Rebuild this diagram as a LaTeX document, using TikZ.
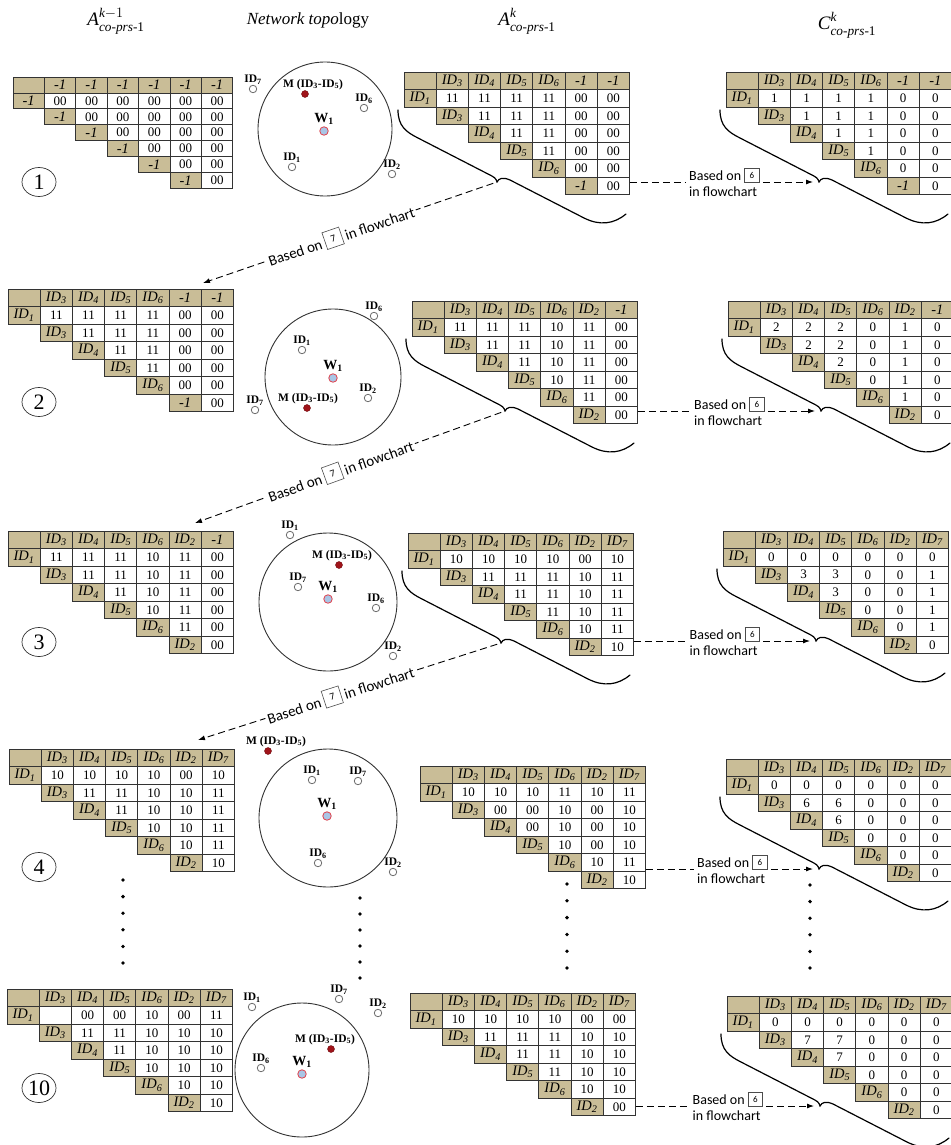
\documentclass[tikz,border=0pt]{standalone}
\usepackage{fontspec,amsmath}
\setmainfont{Liberation Serif}
\newfontfamily\sansf{Carlito}
\usetikzlibrary{arrows.meta,positioning,shapes.geometric}
\definecolor{khaki}{HTML}{C9BD97}
\definecolor{rim}{HTML}{333333}
\definecolor{hubfill}{HTML}{A9C6E6}
\definecolor{hubrim}{HTML}{E0404A}
\definecolor{mred}{HTML}{A0141A}
\definecolor{devrim}{HTML}{6E6E6E}
\def\cellw{32.2}\def\cellh{17.5}
\newcommand{\I}[1]{ID\textsubscript{#1}}
\newcommand{\upk}[1]{\raisebox{2.5pt}{$\scriptstyle #1$}}
\newcommand{\stepbox}[3]{\raisebox{-2pt}{\setlength\fboxsep{0pt}\setlength\fboxrule{0.6pt}\fcolorbox{black!70}{white}{\parbox[b][#1][c]{#1}{\centering\fontsize{#2}{#2}\selectfont #3}}}}
\tikzset{cell/.style={draw=rim,line width=0.7pt,fill=white,minimum width=\cellw pt,minimum height=\cellh pt,inner sep=0pt,font=\fontsize{13}{13}\selectfont},
hdr/.style={cell,fill=khaki,font=\fontsize{14.5}{14.5}\selectfont\itshape},
ring/.style={circle,draw=rim,line width=0.9pt,inner sep=0pt},
hub/.style={circle,draw=hubrim,fill=hubfill,line width=0.8pt,minimum size=8.5pt,inner sep=0pt},
dev/.style={circle,draw=devrim,fill=white,line width=0.8pt,minimum size=7.5pt,inner sep=0pt},
mdot/.style={circle,draw=mred!70!black,fill=mred,minimum size=7pt,inner sep=0pt},
lbl/.style={inner sep=0.5pt,font=\bfseries\fontsize{11.5}{11.5}\selectfont},
num/.style={ellipse,draw=rim,line width=0.7pt,minimum width=34pt,minimum height=29pt,inner sep=0pt,font=\fontsize{22}{22}\selectfont},
ttl/.style={inner sep=0pt,font=\fontsize{19}{19}\selectfont},
note/.style={align=left,inner sep=3pt,font=\sansf\fontsize{14}{16}\selectfont},
brc/.style={line width=1.2pt,line cap=round},
dashln/.style={line width=0.9pt,dash pattern=on 7pt off 4pt},
dasharr/.style={dashln,-{Latex[length=7pt,width=5pt]}}}
% triangular matrix: name, origin, first row header, column headers, value rows
\newcommand{\trimat}[5]{%
\begin{scope}[shift={#2}]
\node[hdr] (#1-0-0) at ({0.5*\cellw},{0.5*\cellh}) {};
\node[hdr] (#1-1-0) at ({0.5*\cellw},{1.5*\cellh}) {#3};
\foreach \t [count=\c] in {#4} {
  \node[hdr] (#1-0-\c) at ({(\c+0.5)*\cellw},{0.5*\cellh}) {\t};
  \ifnum\c<6 \pgfmathtruncatemacro\rr{\c+1}
  \node[hdr] (#1-\rr-\c) at ({(\c+0.5)*\cellw},{(\c+1.5)*\cellh}) {\t}; \fi}
\foreach \vals [count=\r] in {#5} {
  \foreach \v [count=\k] in \vals {
    \pgfmathtruncatemacro\cc{\r+\k-1}
    \node[cell] (#1-\r-\cc) at ({(\cc+0.5)*\cellw},{(\r+0.5)*\cellh}) {\v};}}
\end{scope}}
% rotated brace below a matrix, tip named #1
\newcommand{\brc}[2]{%
\begin{scope}[shift={#2}]
\draw[brc] (-6,38) .. controls (-6,54) and (2,60) .. (14,66) -- (84,102)
  .. controls (90,105) and (92,106) .. (93,110) coordinate (#1)
  .. controls (95,106) and (99,105) .. (106,108) -- (180,146)
  .. controls (196,154) and (210,152) .. (222,142);
\end{scope}}
\newcommand{\dev}[3]{\node[dev] (#1) at #2 {}; \node[lbl,above=0pt of #1] (#1t) {#3};}
\newcommand{\mdot}[3]{\node[mdot] (#1) at #2 {}; \node[lbl,above=0pt of #1,xshift=#3] (#1t) {M (ID\textsubscript{3}-ID\textsubscript{5})};}

\begin{document}
\begin{tikzpicture}[x=1pt,y=-1pt]
\useasboundingbox (0,0) rectangle (950,1145);
% titles
\node[ttl] (h1) at (116,21) {$\mathit{A}^{\upk{\mathit{k}-1}}_{\mathit{co}\text{-}\mathit{prs}\text{-1}}$};
\node[ttl,font=\fontsize{17}{17}\selectfont] (h2) at (308,20) {\textit{Network topo}logy};
\node[ttl] (h3) at (527,21) {$\mathit{A}^{\upk{\mathit{k}}}_{\mathit{co}\text{-}\mathit{prs}\text{-1}}$};
\node[ttl] (h4) at (847,25) {$\mathit{C}^{\upk{\mathit{k}}}_{\mathit{co}\text{-}\mathit{prs}\text{-1}}$};

% row 1
\def\cellw{31.4}\def\cellh{15.9}
\trimat{L1}{(13,77)}{-1}{-1,-1,-1,-1,-1,-1}{{00,00,00,00,00,00},{00,00,00,00,00},{00,00,00,00},{00,00,00},{00,00},{00}}
\def\cellw{32.2}\def\cellh{17.5}
\trimat{M1}{(404,72)}{\I1}{\I3,\I4,\I5,\I6,-1,-1}{{11,11,11,11,00,00},{11,11,11,00,00},{11,11,00,00},{11,00,00},{00,00},{00}}
\trimat{C1}{(726,72)}{\I1}{\I3,\I4,\I5,\I6,-1,-1}{{1,1,1,1,0,0},{1,1,1,0,0},{1,1,0,0},{1,0,0},{0,0},{0}}
\node[num] (k1) at (39,182) {1};
\node[ring,minimum size=134pt] (g1) at (325,129) {};
\node[hub] (w1) at (324,131) {};
\node[lbl,above=1pt of w1,font=\bfseries\fontsize{14}{14}\selectfont] (w1t) {W\textsubscript{1}};
\dev{n1-7}{(253,89)}{ID\textsubscript{7}}
\mdot{n1-m}{(305,94)}{8pt}
\dev{n1-6}{(364,108)}{ID\textsubscript{6}}
\dev{n1-1}{(292,167)}{ID\textsubscript{1}}
\dev{n1-2}{(392,174)}{ID\textsubscript{2}}

% row 2
\trimat{L2}{(8,289)}{\I1}{\I3,\I4,\I5,\I6,-1,-1}{{11,11,11,11,00,00},{11,11,11,00,00},{11,11,00,00},{11,00,00},{00,00},{00}}
\trimat{M2}{(412,301)}{\I1}{\I3,\I4,\I5,\I6,\I2,-1}{{11,11,11,10,11,00},{11,11,10,11,00},{11,10,11,00},{10,11,00},{11,00},{00}}
\trimat{C2}{(728,301)}{\I1}{\I3,\I4,\I5,\I6,\I2,-1}{{2,2,2,0,1,0},{2,2,0,1,0},{2,0,1,0},{0,1,0},{1,0},{0}}
\node[num] (k2) at (39,402) {2};
\node[ring,minimum size=136pt] (g2) at (333,377) {};
\node[hub] (w2) at (333,378) {};
\node[lbl,above=1pt of w2,font=\bfseries\fontsize{14}{14}\selectfont] (w2t) {W\textsubscript{1}};
\dev{n2-6}{(374,316)}{ID\textsubscript{6}}
\dev{n2-1}{(302,350)}{ID\textsubscript{1}}
\dev{n2-2}{(368,398)}{ID\textsubscript{2}}
\dev{n2-7}{(255,410)}{ID\textsubscript{7}}
\mdot{n2-m}{(307,408)}{1pt}

% row 3
\trimat{L3}{(8,531)}{\I1}{\I3,\I4,\I5,\I6,\I2,-1}{{11,11,11,10,11,00},{11,11,10,11,00},{11,10,11,00},{10,11,00},{11,00},{00}}
\trimat{M3}{(408,533)}{\I1}{\I3,\I4,\I5,\I6,\I2,\I7}{{10,10,10,10,00,10},{11,11,11,10,11},{11,11,10,11},{11,10,11},{10,11},{10}}
\trimat{C3}{(723,531)}{\I1}{\I3,\I4,\I5,\I6,\I2,\I7}{{0,0,0,0,0,0},{3,3,0,0,1},{3,0,0,1},{0,0,1},{0,1},{0}}
\node[num] (k3) at (39,642) {3};
\node[ring,minimum size=138pt] (g3) at (328,602) {};
\node[hub] (w3) at (328,599) {};
\node[lbl,above=1pt of w3,font=\bfseries\fontsize{14}{14}\selectfont] (w3t) {W\textsubscript{1}};
\dev{n3-1}{(290,535)}{ID\textsubscript{1}}
\mdot{n3-m}{(339,565)}{3pt}
\dev{n3-7}{(298,587)}{ID\textsubscript{7}}
\dev{n3-6}{(376,608)}{ID\textsubscript{6}}
\dev{n3-2}{(393,656)}{ID\textsubscript{2}}

% row 4
\trimat{L4}{(9,749)}{\I1}{\I3,\I4,\I5,\I6,\I2,\I7}{{10,10,10,10,00,10},{11,11,10,10,11},{11,10,10,11},{10,10,11},{10,11},{10}}
\trimat{M4}{(420,766)}{\I1}{\I3,\I4,\I5,\I6,\I2,\I7}{{10,10,10,11,10,11},{00,00,10,00,10},{00,10,00,10},{10,00,10},{10,11},{10}}
\trimat{C4}{(726,759)}{\I1}{\I3,\I4,\I5,\I6,\I2,\I7}{{0,0,0,0,0,0},{6,6,0,0,0},{6,0,0,0},{0,0,0},{0,0},{0}}
\node[num] (k4) at (39,867) {4};
\node[ring,minimum size=138pt] (g4) at (328,818) {};
\node[hub] (w4) at (327,816) {};
\node[lbl,above=1pt of w4,font=\bfseries\fontsize{14}{14}\selectfont] (w4t) {W\textsubscript{1}};
\mdot{n4-m}{(268,751)}{8pt}
\dev{n4-1}{(312,780)}{ID\textsubscript{1}}
\dev{n4-7}{(358,781)}{ID\textsubscript{7}}
\dev{n4-6}{(318,863)}{ID\textsubscript{6}}
\dev{n4-2}{(393,872)}{ID\textsubscript{2}}

% row 10
\trimat{L10}{(7,989)}{\I1}{\I3,\I4,\I5,\I6,\I2,\I7}{{{},00,00,10,00,11},{11,11,10,10,10},{11,10,10,10},{10,10,10},{10,10},{10}}
\trimat{M10}{(410,993)}{\I1}{\I3,\I4,\I5,\I6,\I2,\I7}{{10,10,10,10,00,00},{11,11,11,10,10},{11,11,10,10},{11,10,10},{10,10},{00}}
\trimat{C10}{(727,996)}{\I1}{\I3,\I4,\I5,\I6,\I2,\I7}{{0,0,0,0,0,0},{7,7,0,0,0},{7,0,0,0},{0,0,0},{0,0},{0}}
\node[num] (k10) at (39,1088) {10};
\node[ring,minimum size=134pt] (g10) at (302,1070) {};
\node[hub] (w10) at (302,1074) {};
\node[lbl,above=1pt of w10,font=\bfseries\fontsize{14}{14}\selectfont] (w10t) {W\textsubscript{1}};
\dev{n10-1}{(252,1007)}{ID\textsubscript{1}}
\dev{n10-7}{(339,999)}{ID\textsubscript{7}}
\dev{n10-2}{(378,1013)}{ID\textsubscript{2}}
\mdot{n10-m}{(331,1049)}{-6pt}
\dev{n10-6}{(261,1068)}{ID\textsubscript{6}}

% braces
\brc{m1t}{(404,72)} \brc{m2t}{(412,301)} \brc{m3t}{(408,533)}
\brc{c1t}{(726,72)} \brc{c2t}{(728,301)} \brc{c3t}{(723,531)} \brc{c4t}{(726,759)} \brc{c10t}{(727,996)}

% step 6 arrows
\foreach \m/\t in {M1/c1t,M2/c2t,M3/c3t,M4/c4t,M10/c10t} {
  \path (\m-6-6.east |- \t) -- node[note] (p-\m) {Based on \stepbox{14pt}{9}{6}\\in flowchart} (\t);
  \draw[dashln] (\m-6-6.east |- \t) -- (p-\m.west);
  \draw[dasharr,shorten >=6pt] (p-\m.east) -- (\t);}

% step 7 arrows
\coordinate (a2) at (203,283);
\coordinate (a3) at (195,523);
\coordinate (a4) at (198,740);
\foreach \s/\e in {m1t/a2,m2t/a3,m3t/a4}
  \draw[dasharr,shorten <=4pt] (\s) -- node[sloped,pos=0.53,fill=white,inner sep=2pt,font=\sansf\fontsize{15}{15}\selectfont] (q-\e) {Based on \stepbox{17pt}{10}{7} in flowchart} (\e);

% ellipsis dots
\foreach \k in {0,...,5} {
  \fill (123,{880+16.6*\k}) circle (1.9pt);
  \fill (360,{898+16*\k}) circle (1.9pt);
  \fill (567,{884+16.8*\k}) circle (1.9pt);
  \fill (810,{885+16.6*\k}) circle (1.9pt);}
\end{tikzpicture}
\end{document}
